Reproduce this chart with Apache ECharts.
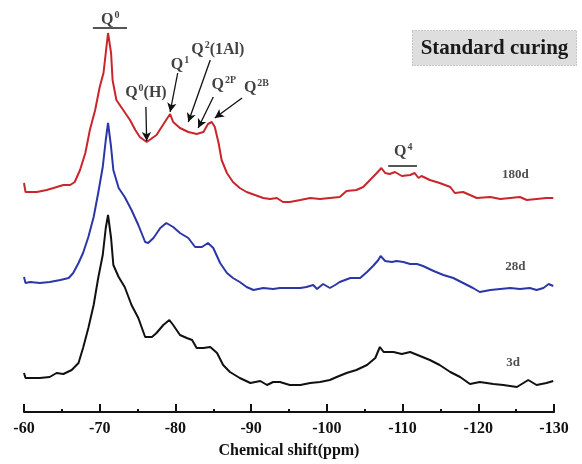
<!DOCTYPE html>
<html>
<head>
<meta charset="utf-8">
<script src="https://cdn.jsdelivr.net/npm/echarts@6/dist/echarts.min.js"></script>
<style>
  html, body { margin: 0; padding: 0; background: #fff; }
  #chart { width: 582px; height: 464px; }
</style>
</head>
<body>
<div id="chart"></div>
<script>
// 29Si MAS NMR spectra, standard curing, stacked by curing age (intensity in a.u., offset per trace)
const shift180 = [-60.0, -60.2, -61.7, -63.0, -63.9, -65.2, -66.1, -66.7, -67.4, -68.1, -68.7, -69.4, -70.0, -70.5, -70.8, -71.1, -71.5, -71.7, -72.2, -73.1, -74.0, -74.7, -75.3, -76.2, -76.4, -77.5, -78.6, -79.3, -79.7, -80.6, -81.7, -82.8, -83.7, -84.3, -84.8, -85.2, -85.7, -86.1, -86.8, -87.6, -88.5, -89.4, -90.5, -91.6, -92.5, -93.4, -94.2, -95.1, -96.5, -97.8, -99.1, -100.4, -101.7, -102.6, -103.9, -104.8, -105.7, -106.6, -107.2, -107.7, -108.3, -109.0, -109.9, -111.0, -111.6, -112.1, -112.5, -113.6, -114.9, -116.3, -116.9, -118.0, -118.9, -119.8, -121.6, -122.9, -124.2, -125.5, -126.4, -127.7, -129.0, -129.9];
const int180 = [229, 220, 220, 222, 224, 227, 227, 230, 242, 259, 282, 302, 325, 339, 359, 379, 359, 332, 312, 302, 292, 282, 275, 270, 269, 277, 290, 298, 290, 284, 280, 278, 280, 288, 290, 285, 269, 252, 239, 230, 224, 220, 217, 214, 213, 214, 210, 210, 212, 214, 213, 214, 215, 221, 222, 225, 232, 239, 244, 239, 238, 240, 236, 237, 239, 234, 236, 232, 229, 225, 219, 220, 217, 214, 215, 213, 214, 215, 212, 213, 214, 214];

const shift28 = [-60.0, -60.2, -60.8, -62.1, -63.4, -64.8, -65.9, -66.5, -67.2, -67.8, -68.5, -69.2, -69.8, -70.4, -70.8, -71.1, -71.5, -71.8, -72.5, -73.3, -74.2, -75.1, -76.0, -76.4, -77.1, -78.0, -78.8, -79.7, -80.6, -81.7, -82.6, -83.5, -84.3, -85.0, -85.9, -86.8, -87.6, -88.5, -89.4, -90.3, -91.6, -92.9, -93.8, -95.1, -96.5, -97.3, -98.2, -98.7, -99.5, -100.4, -101.1, -101.7, -103.1, -104.4, -105.3, -106.1, -106.8, -107.1, -107.7, -108.6, -109.2, -110.1, -111.0, -111.9, -112.7, -114.1, -115.4, -116.7, -118.0, -119.3, -120.2, -121.6, -122.9, -124.2, -125.5, -126.8, -127.7, -128.6, -129.3, -129.9];
const int28 = [135, 129, 130, 129, 130, 132, 134, 139, 149, 159, 175, 195, 219, 245, 272, 289, 265, 242, 224, 215, 202, 187, 170, 169, 174, 184, 189, 185, 179, 174, 165, 165, 169, 164, 149, 139, 134, 130, 125, 122, 124, 123, 124, 124, 124, 125, 127, 123, 128, 124, 127, 130, 134, 134, 140, 146, 152, 156, 151, 150, 151, 150, 148, 148, 146, 141, 137, 134, 129, 124, 120, 122, 123, 124, 123, 124, 122, 124, 128, 126];

const shift3 = [-60.0, -60.2, -60.8, -62.1, -63.4, -64.3, -65.2, -66.3, -67.2, -67.8, -68.5, -69.2, -69.8, -70.4, -70.8, -71.1, -71.5, -71.8, -72.5, -73.3, -74.2, -75.1, -76.0, -76.9, -77.5, -78.4, -79.2, -79.7, -80.6, -81.5, -82.2, -82.8, -83.7, -84.6, -85.5, -86.3, -87.2, -88.5, -89.9, -91.2, -92.1, -92.9, -93.8, -95.1, -96.5, -97.8, -99.1, -100.4, -101.3, -102.6, -103.9, -105.3, -106.4, -107.0, -107.5, -108.8, -109.9, -111.0, -112.3, -113.6, -114.9, -116.3, -117.6, -118.9, -120.2, -122.0, -123.3, -125.1, -126.6, -127.7, -129.0, -129.9];
const int3 = [39, 34, 34, 34, 35, 39, 38, 42, 49, 64, 84, 107, 134, 157, 184, 197, 174, 147, 135, 125, 107, 94, 75, 75, 79, 87, 92, 87, 77, 74, 72, 64, 64, 65, 59, 47, 40, 34, 29, 31, 27, 30, 30, 27, 27, 29, 30, 32, 35, 39, 42, 47, 54, 65, 60, 60, 58, 60, 56, 52, 47, 40, 35, 28, 30, 28, 27, 25, 32, 27, 29, 31];

const shiftTicks = [-60, -70, -80, -90, -100, -110, -120, -130];
const ageLabels = ['180d', '28d', '3d'];

const pair = (xs, ys) => xs.map((x, i) => [x, ys[i]]);

const serifBold = { fontFamily: 'Liberation Serif, Times New Roman, serif', fontWeight: 'bold' };

// Peak assignments: [text, label position, arrow start, arrow end]
const peakNotes = [
  { text: '{q|Q}{s|0}{q|(H)}', at: [-76.1, 320], from: [-76.1, 305], to: [-76.2, 271] },
  { text: '{q|Q}{s|1}', at: [-80.6, 348], from: [-80.3, 339], to: [-79.3, 300] },
  { text: '{q|Q}{s|2}{q|(1Al)}', at: [-85.6, 363], from: [-84.6, 352], to: [-81.7, 290] },
  { text: '{q|Q}{s|2P}', at: [-86.4, 328], from: [-85.0, 315], to: [-83.0, 284] },
  { text: '{q|Q}{s|2B}', at: [-90.7, 325], from: [-88.8, 314], to: [-85.2, 294] }
];
const bandNotes = [
  { text: '{q|Q}{s|0}', at: [-71.4, 393], bar: [[-69.1, 384], [-73.6, 384]] },
  { text: '{q|Q}{s|4}', at: [-110.1, 261], bar: [[-108.1, 246], [-111.9, 246]] }
];
const agePos = [[-124.9, 237], [-124.9, 145], [-124.6, 49]];

const richQ = {
  q: Object.assign({ fontSize: 16, color: '#111', lineHeight: 18, verticalAlign: 'bottom' }, serifBold),
  s: Object.assign({ fontSize: 10, color: '#111', lineHeight: 18, verticalAlign: 'top', padding: [0, 0, 8, 1] }, serifBold)
};

const chart = echarts.init(document.getElementById('chart'), null, { renderer: 'canvas' });

const traceStyle = (color) => ({
  type: 'line', showSymbol: false, symbol: 'none', smooth: false,
  lineStyle: { color: color, width: 2 }, silent: true, z: 3
});

chart.setOption({
  animation: false,
  backgroundColor: '#fff',
  grid: { left: 24, right: 28, top: 12, bottom: 52, containLabel: false },
  xAxis: {
    type: 'value', min: -130, max: -60, interval: 10, inverse: true,
    axisLine: { show: true, lineStyle: { color: '#111', width: 2 } },
    axisTick: { show: true, inside: true, length: 8, lineStyle: { color: '#111', width: 2 } },
    minorTick: { show: true, splitNumber: 2, length: 3, lineStyle: { color: '#111', width: 2 } },
    splitLine: { show: false },
    axisLabel: Object.assign({ color: '#111', fontSize: 16, margin: 9,
      formatter: (v) => shiftTicks.includes(v) ? String(v) : '' }, serifBold),
    name: 'Chemical shift(ppm)', nameLocation: 'middle', nameGap: 31,
    nameTextStyle: Object.assign({ color: '#111', fontSize: 16 }, serifBold)
  },
  yAxis: { type: 'value', min: 0, max: 400, show: false },
  series: [
    Object.assign(traceStyle('#c8262c'), {
      name: '180d', data: pair(shift180, int180),
      markLine: {
        silent: true, symbol: ['none', 'arrow'], symbolSize: [7, 9], animation: false,
        label: { show: false },
        lineStyle: { color: '#111', width: 1.3, type: 'solid' },
        data: peakNotes.map(n => [{ coord: n.from }, { coord: n.to }])
      }
    }),
    Object.assign(traceStyle('#2b36a8'), { name: '28d', data: pair(shift28, int28) }),
    Object.assign(traceStyle('#111111'), { name: '3d', data: pair(shift3, int3) }),
    {
      type: 'line', name: 'bands', data: [], silent: true,
      markLine: {
        silent: true, symbol: ['none', 'none'], animation: false,
        label: { show: false },
        lineStyle: { color: '#555', width: 2, type: 'solid' },
        data: bandNotes.map(n => [{ coord: n.bar[0] }, { coord: n.bar[1] }])
      }
    },
    {
      type: 'scatter', name: 'notes', silent: true, symbolSize: 1,
      itemStyle: { color: 'rgba(0,0,0,0)' }, z: 5,
      data: peakNotes.concat(bandNotes).map(n => ({
        value: n.at,
        label: { show: true, position: 'inside', formatter: n.text, rich: richQ }
      })).concat(ageLabels.map((t, i) => ({
        value: agePos[i],
        label: Object.assign({ show: true, position: 'inside', formatter: t, fontSize: 13, color: '#222' }, serifBold)
      })))
    }
  ],
  graphic: [
    {
      type: 'group', left: 412, top: 30,
      children: [
        { type: 'rect', shape: { x: 0, y: 0, width: 164, height: 35 },
          style: { fill: '#dedede', stroke: '#9a9a9a', lineWidth: 1, lineDash: [1, 2] } },
        { type: 'text', x: 82, y: 18,
          style: Object.assign({ text: 'Standard curing', fill: '#1a1a1a', fontSize: 21,
            align: 'center', verticalAlign: 'middle' }, serifBold) }
      ]
    }
  ]
});
</script>
</body>
</html>
